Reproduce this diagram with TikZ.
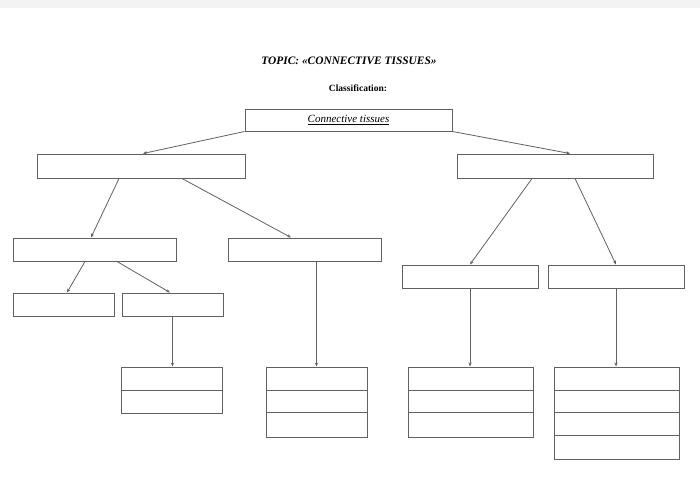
\documentclass[tikz,border=0pt]{standalone}
\usepackage{fontspec}
\setmainfont{Liberation Serif}
\usetikzlibrary{arrows.meta,calc}
\definecolor{linec}{HTML}{606060}
\definecolor{band}{HTML}{F3F3F3}
\begin{document}
\begin{tikzpicture}[x=1pt,y=-1pt,
  box/.style={draw=linec, line width=1pt, inner sep=0pt, minimum height=23pt, rectangle},
  arr/.style={draw=linec, line width=0.8pt, -{Stealth[length=4pt,width=3.2pt]}},
  plain/.style={draw=linec, line width=1pt},
  txt/.style={inner sep=0pt, text=black}]
\useasboundingbox (0,0) rectangle (700,501);
\fill[band] (0,0) rectangle (700,8);
% texts
\node[txt] (title) at (349,61) {\fontsize{11.4}{13}\selectfont\bfseries\itshape TOPIC: «CONNECTIVE TISSUES»};
\node[txt] (cls) at (358,88) {\fontsize{9.5}{11}\selectfont\bfseries Classification:};
% boxes
\node[box, minimum width=207pt, minimum height=22pt] (top) at (348.5,120) {\fontsize{11}{13}\selectfont\itshape\underline{Connective tissues}};
\node[box, minimum width=208pt, minimum height=24pt] (l1l) at (141,166) {};
\node[box, minimum width=196pt, minimum height=24pt] (l1r) at (555,166) {};
\node[box, minimum width=163pt] (a) at (94.5,249.5) {};
\node[box, minimum width=153pt] (b) at (304.5,249.5) {};
\node[box, minimum width=101pt] (c) at (63.5,304.5) {};
\node[box, minimum width=101pt] (d) at (172.5,304.5) {};
\node[box, minimum width=136pt] (e) at (470,276.5) {};
\node[box, minimum width=136pt] (f) at (616,276.5) {};
\node[box, minimum width=101pt, minimum height=46pt] (g1) at (171.5,390) {};
\node[box, minimum width=101pt, minimum height=70pt] (g2) at (316.5,402) {};
\node[box, minimum width=125pt, minimum height=70pt] (g3) at (470.5,402) {};
\node[box, minimum width=125pt, minimum height=92pt] (g4) at (616.5,413) {};
% dividers
\draw[plain] ($(g1.north west)+(0,24)$) -- ($(g1.north east)+(0,24)$);
\foreach \g in {g2,g3}{
  \draw[plain] ($(\g.north west)+(0,24)$) -- ($(\g.north east)+(0,24)$);
  \draw[plain] ($(\g.north west)+(0,46)$) -- ($(\g.north east)+(0,46)$);
}
\draw[plain] ($(g4.north west)+(0,24)$) -- ($(g4.north east)+(0,24)$);
\draw[plain] ($(g4.north west)+(0,46)$) -- ($(g4.north east)+(0,46)$);
\draw[plain] ($(g4.north west)+(0,69)$) -- ($(g4.north east)+(0,69)$);
% connectors
\draw[arr] (top.south west) -- ([xshift=2pt]l1l.north);
\draw[arr] (top.south east) -- ([xshift=15pt]l1r.north);
\draw[arr] ([xshift=-22pt]l1l.south) -- ([xshift=-3.5pt]a.north);
\draw[arr] ([xshift=41pt]l1l.south) -- ([xshift=-13.5pt]b.north);
\draw[arr] ([xshift=-9.5pt]a.south) -- ([xshift=3.5pt]c.north);
\draw[arr] ([xshift=22.5pt]a.south) -- ([xshift=-2.5pt]d.north);
\draw[arr] (d.south) -- (d.south |- g1.north);
\draw[arr] (g2.north |- b.south) -- (g2.north);
\draw[arr] ([xshift=-23pt]l1r.south) -- (e.north);
\draw[arr] ([xshift=20pt]l1r.south) -- (f.north);
\draw[arr] (e.south) -- (e.south |- g3.north);
\draw[arr] (f.south) -- (f.south |- g4.north);
\end{tikzpicture}
\end{document}
